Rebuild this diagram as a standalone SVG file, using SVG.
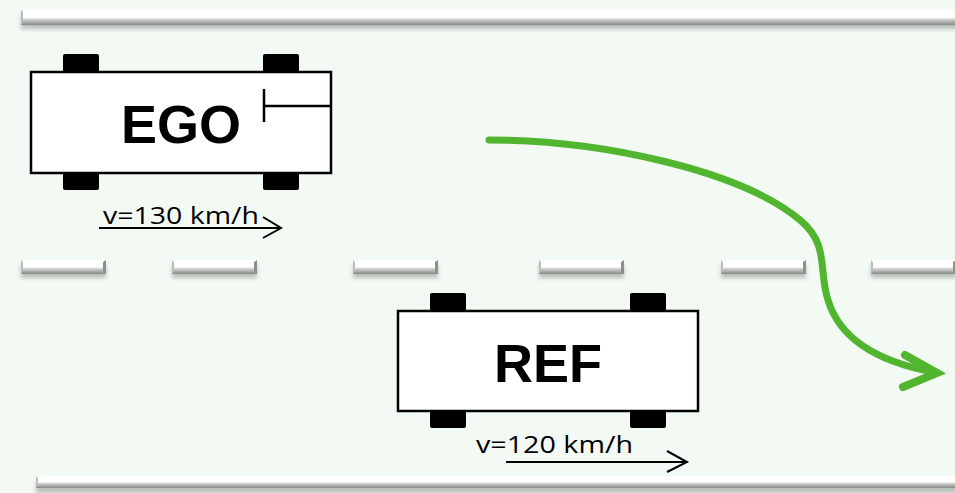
<svg xmlns="http://www.w3.org/2000/svg" xmlns:xlink="http://www.w3.org/1999/xlink" width="955" height="493" viewBox="0 0 955 493">
<style>
.body{fill:#ffffff;stroke:#000000;stroke-width:2.5}
.wheel{fill:#000000}
.name{font-family:"Liberation Sans",Arial,sans-serif;font-weight:bold;font-size:54px;fill:#000000;text-anchor:middle}
.speed{font-family:"Open Sans","Liberation Sans",sans-serif;font-size:23px;fill:#000000}
.vline{fill:none;stroke:#000000;stroke-width:2}
.sensor{fill:none;stroke:#000000;stroke-width:2.5}
.traj{fill:none;stroke:#52b52f;stroke-width:7;stroke-linecap:round}
.trajhead{fill:none;stroke:#52b52f;stroke-width:8;stroke-linecap:round;stroke-linejoin:miter}
</style>
<defs>
<linearGradient id="bev" x1="0" y1="0" x2="0" y2="1">
<stop offset="0" stop-color="#ffffff"/>
<stop offset="0.5" stop-color="#ffffff"/>
<stop offset="0.62" stop-color="#d2d2d2"/>
<stop offset="1" stop-color="#888888"/>
</linearGradient>
<filter id="sh" x="-10%" y="-60%" width="120%" height="260%"><feGaussianBlur stdDeviation="2"/></filter>
<g id="dash">
<rect x="0" y="5" width="85" height="13" fill="#6f776f" opacity="0.45" filter="url(#sh)"/>
<rect x="0" y="0" width="85" height="14" fill="url(#bev)"/>
<polygon points="82,2 85,0 85,14 82,11" fill="#8e8e8e"/>
<polygon points="0,0 2,2 2,11 0,14" fill="#bdbdbd"/>
</g>
</defs>
<rect x="0" y="0" width="955" height="493" fill="#f3faf4"/>
<g id="road">
<rect x="21" y="15" width="940" height="14" fill="#6f776f" opacity="0.45" filter="url(#sh)"/>
<rect x="21" y="10" width="940" height="15" fill="url(#bev)"/>
<polygon points="21,10 23,12 23,22 21,25" fill="#bdbdbd"/>
<rect x="36" y="481" width="925" height="12" fill="#6f776f" opacity="0.45" filter="url(#sh)"/>
<rect x="36" y="476" width="925" height="12" fill="url(#bev)"/>
<polygon points="36,476 38,478 38,485 36,488" fill="#bdbdbd"/>
<use xlink:href="#dash" x="21" y="260"/>
<use xlink:href="#dash" x="172" y="260"/>
<use xlink:href="#dash" x="353" y="260"/>
<use xlink:href="#dash" x="539" y="260"/>
<use xlink:href="#dash" x="721" y="260"/>
<use xlink:href="#dash" x="871" y="260"/>
</g>
<g id="ego">
<rect class="wheel" x="63" y="54" width="36" height="20" rx="2"/>
<rect class="wheel" x="263" y="54" width="36" height="20" rx="2"/>
<rect class="wheel" x="63" y="171" width="36" height="19" rx="2"/>
<rect class="wheel" x="263" y="171" width="36" height="19" rx="2"/>
<rect class="body" x="31" y="72" width="300" height="101"/>
<text class="name" x="181" y="143">EGO</text>
<path class="sensor" d="M264,89 V122 M264,106 H331"/>
<text class="speed" x="103" y="224" textLength="156" lengthAdjust="spacingAndGlyphs">v=130 km/h</text>
<path class="vline" d="M99,228 H281 M263,217 L281,228 L263,238"/>
</g>
<g id="ref">
<rect class="wheel" x="430" y="293" width="36" height="20" rx="2"/>
<rect class="wheel" x="630" y="293" width="36" height="20" rx="2"/>
<rect class="wheel" x="430" y="409" width="36" height="19" rx="2"/>
<rect class="wheel" x="630" y="409" width="36" height="19" rx="2"/>
<rect class="body" x="398" y="311" width="300" height="100"/>
<text class="name" x="548" y="382">REF</text>
<text class="speed" x="476" y="453" textLength="157" lengthAdjust="spacingAndGlyphs">v=120 km/h</text>
<path class="vline" d="M506,462 H687 M667,451 L687,462 L667,472"/>
</g>
<g id="connectors">
<path class="traj" d="M489,140 C600,140 740,170 800,220 C830,245 818,270 828,300 C840,340 880,362 933,372"/>
<path class="trajhead" d="M905,355 L937,373 L903,387"/>
</g>
</svg>
